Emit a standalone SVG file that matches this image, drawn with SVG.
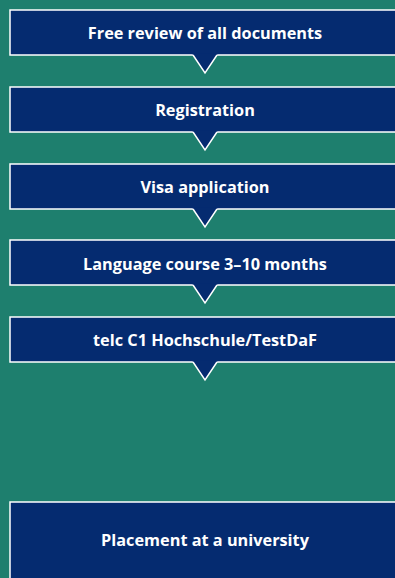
<svg xmlns="http://www.w3.org/2000/svg" width="395" height="578" viewBox="0 0 395 578">
<style>
.box{fill:#052B70;stroke:#fff;stroke-width:1.5}
.lbl{font-family:"Open Sans","Liberation Sans",sans-serif;font-weight:700;font-size:16.3px;fill:#fff;text-anchor:middle}
.nf{fill:#052B70;stroke:none}
.ns{fill:none;stroke:#fff;stroke-width:1.5;stroke-linejoin:miter}
</style>
<rect width="395" height="578" fill="#1E7F6E"/>
<g id="n1"><rect class="box" x="10" y="10" width="400" height="45"/><text class="lbl" x="205" y="39">Free review of all documents</text></g>
<g id="n2"><rect class="box" x="10" y="87" width="400" height="45"/><text class="lbl" x="205" y="116">Registration</text></g>
<g id="n3"><rect class="box" x="10" y="164" width="400" height="45"/><text class="lbl" x="205" y="193">Visa application</text></g>
<g id="n4"><rect class="box" x="10" y="240" width="400" height="45"/><text class="lbl" x="205" y="270">Language course 3–10 months</text></g>
<g id="n5"><rect class="box" x="10" y="317" width="400" height="45"/><text class="lbl" x="205" y="346">telc C1 Hochschule/TestDaF</text></g>
<g id="n6"><rect class="box" x="10" y="502" width="400" height="90"/><text class="lbl" x="205" y="546">Placement at a university</text></g>
<g id="connectors">
<g transform="translate(0,55)"><polygon class="nf" points="192.5,-1.5 217.5,-1.5 217,0 205,18 193,0"/><polyline class="ns" points="193,0 205,18 217,0"/></g>
<g transform="translate(0,132)"><polygon class="nf" points="192.5,-1.5 217.5,-1.5 217,0 205,18 193,0"/><polyline class="ns" points="193,0 205,18 217,0"/></g>
<g transform="translate(0,209)"><polygon class="nf" points="192.5,-1.5 217.5,-1.5 217,0 205,18 193,0"/><polyline class="ns" points="193,0 205,18 217,0"/></g>
<g transform="translate(0,285)"><polygon class="nf" points="192.5,-1.5 217.5,-1.5 217,0 205,18 193,0"/><polyline class="ns" points="193,0 205,18 217,0"/></g>
<g transform="translate(0,362)"><polygon class="nf" points="192.5,-1.5 217.5,-1.5 217,0 205,18 193,0"/><polyline class="ns" points="193,0 205,18 217,0"/></g>
</g>
</svg>
